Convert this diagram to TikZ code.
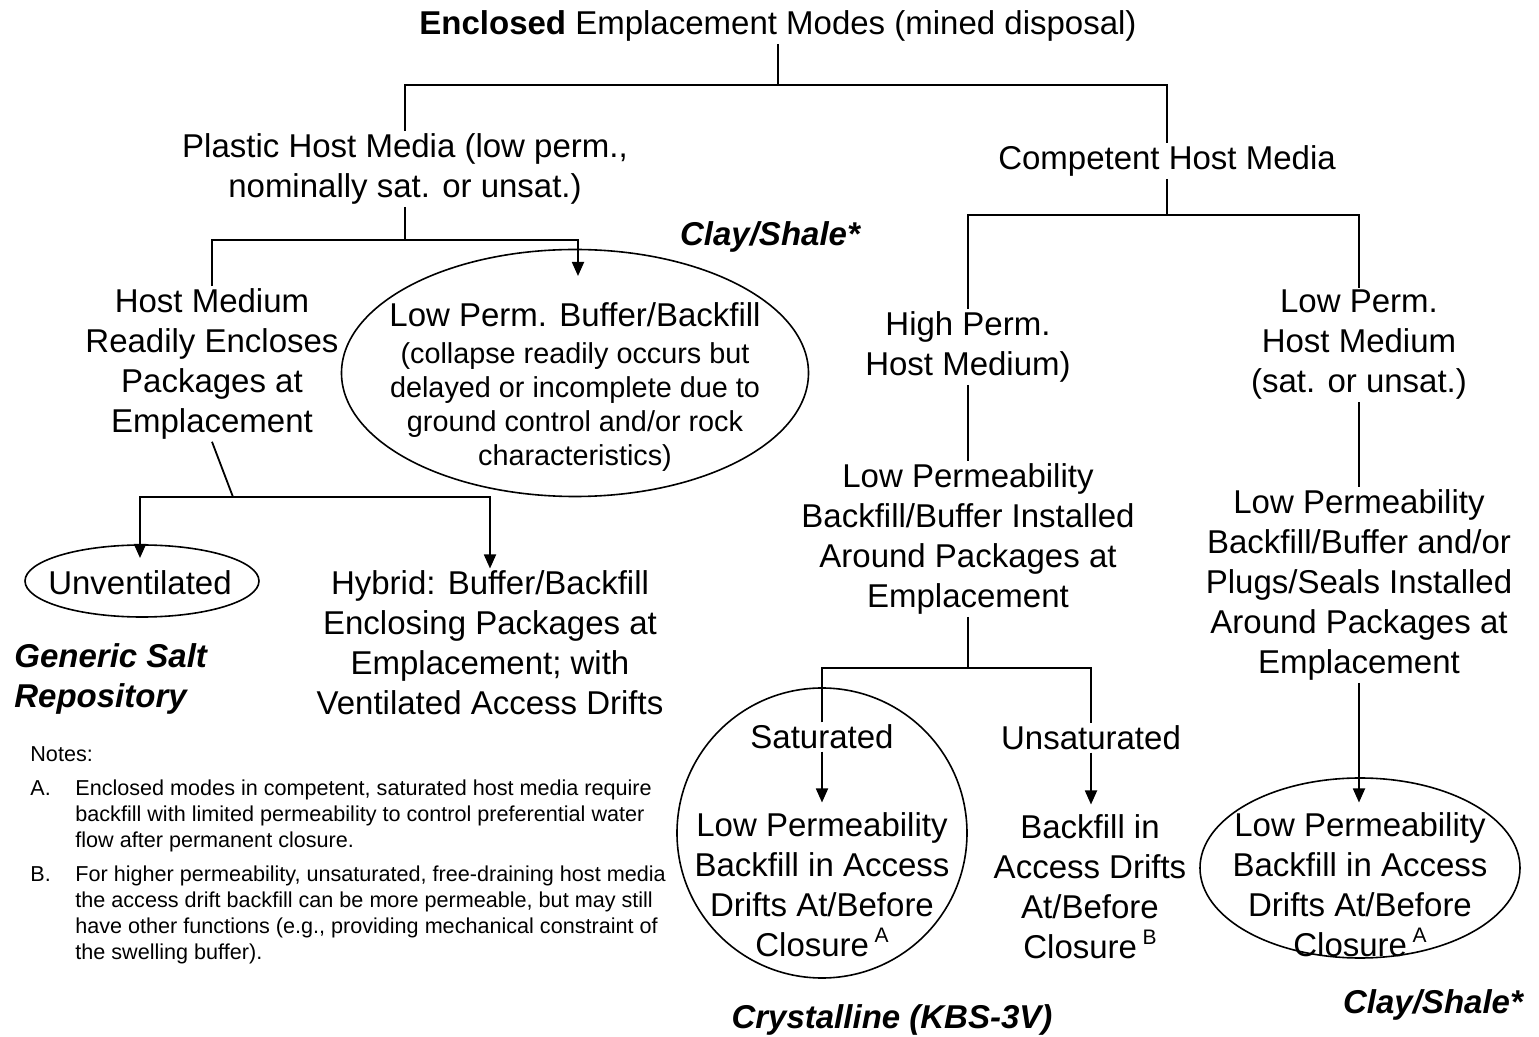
\documentclass[tikz,border=0pt]{standalone}
\usepackage{fontspec}
\setmainfont{Liberation Sans}
\usepackage{tikz}
\usetikzlibrary{shapes.geometric, arrows.meta, positioning, calc}
\newcommand{\bigtxt}{\fontsize{16.5}{20}\selectfont}
\newcommand{\midtxt}{\fontsize{14.4}{17}\selectfont}
\newcommand{\notetxt}{\fontsize{10.8}{13}\selectfont}
\newcommand{\supnote}[1]{\,\raisebox{0.8ex}{\fontsize{10.5}{10.5}\selectfont #1}}

\begin{document}
\begin{tikzpicture}[x=0.5pt, y=-0.5pt,
  hostlbl/.style={align=center, font=\bigtxt, inner sep=1pt},
  oval/.style={ellipse, draw, line width=0.8pt, inner sep=0pt},
  rocktype/.style={font=\bigtxt\bfseries\itshape, inner sep=0pt},
  link/.style={line width=0.9pt},
  arrow/.style={-{Triangle[length=7pt,width=6pt]}, line width=0.9pt}
]
  \useasboundingbox (0,0) rectangle (1539,1037);

  % shapes round some of the texts
  \node[oval, minimum width=233.5pt, minimum height=123.5pt] (lowbuf) at (575,373) {};
  \node[oval, minimum width=117pt, minimum height=36pt] (unvent) at (142,581) {};
  \node[circle, draw, line width=0.8pt, minimum size=145pt] (satcircle) at (822,833) {};
  \node[oval, minimum width=160pt, minimum height=90pt] (clayoval) at (1360,868) {};

  % texts
  \node[hostlbl] (title) at (778,26) {\textbf{Enclosed} Emplacement Modes (mined disposal)};
  \node[hostlbl] (plastic) at (405,169) {Plastic Host Media (low perm.,\\nominally sat. or unsat.)};
  \node[hostlbl] (competent) at (1167,161) {Competent Host Media};
  \node[hostlbl] (readily) at (212,364) {Host Medium\\Readily Encloses\\Packages at\\Emplacement};
  \node[hostlbl, font=\midtxt] (lowbuftxt) at (575,387) {{\bigtxt Low Perm. Buffer/Backfill}\\[1.5pt]
    (collapse readily occurs but\\delayed or incomplete due to\\ground control and/or rock\\characteristics)};
  \node[hostlbl] (unventtxt) at (140,583) {Unventilated};
  \node[hostlbl] (hybrid) at (490,643) {Hybrid: Buffer/Backfill\\Enclosing Packages at\\Emplacement; with\\Ventilated Access Drifts};
  \node[hostlbl] (highperm) at (968,347) {High Perm.\\Host Medium)};
  \node[hostlbl] (lowpermhost) at (1359,345) {Low Perm.\\Host Medium\\(sat. or unsat.)};
  \node[hostlbl] (lpinstalled) at (968,539) {Low Permeability\\Backfill/Buffer Installed\\Around Packages at\\Emplacement};
  \node[hostlbl] (lpplugs) at (1359,585) {Low Permeability\\Backfill/Buffer and/or\\Plugs/Seals Installed\\Around Packages at\\Emplacement};
  \node[hostlbl] (saturated) at (822,737) {Saturated};
  \node[hostlbl] (unsaturated) at (1091,738) {Unsaturated};
  \node[hostlbl] (lpbackfill) at (822,885) {Low Permeability\\Backfill in Access\\Drifts At/Before\\Closure\supnote{A}};
  \node[hostlbl] (backfillin) at (1090,887) {Backfill in\\Access Drifts\\At/Before\\Closure\supnote{B}};
  \node[hostlbl] (clayback) at (1360,885) {Low Permeability\\Backfill in Access\\Drifts At/Before\\Closure\supnote{A}};

  \node[rocktype] (clay1) at (770,237) {Clay/Shale*};
  \node[rocktype, align=left, anchor=west] (salt) at (14,679) {Generic Salt\\Repository};
  \node[rocktype] (crystalline) at (892,1020) {Crystalline (KBS-3V)};
  \node[rocktype] (clay2) at (1433,1005) {Clay/Shale*};

  \node[anchor=north west, inner sep=0pt, font=\notetxt] (notes) at (30,743) {%
    \begin{tabular}{@{}p{22.5pt}@{}l@{}}
      \multicolumn{2}{@{}l@{}}{Notes:}\\[4pt]
      A. & Enclosed modes in competent, saturated host media require\\
         & backfill with limited permeability to control preferential water\\
         & flow after permanent closure.\\[4pt]
      B. & For higher permeability, unsaturated, free-draining host media\\
         & the access drift backfill can be more permeable, but may still\\
         & have other functions (e.g., providing mechanical constraint of\\
         & the swelling buffer).
    \end{tabular}};

  % junctions
  \coordinate (jtop) at (776,85);
  \coordinate (jp) at (405,240);
  \coordinate (bufin) at (578,276);
  \coordinate (jr) at (233,497);
  \coordinate (unventin) at (140,558);
  \coordinate (jc) at (1167,215);
  \coordinate (js) at (968,668);

  % connectors
  \draw[link] (title.south) -- (title.south |- jtop);
  \draw[link] (plastic.north) |- (jtop) -| (competent.north);
  \draw[link] (plastic.south) -- (jp);
  \draw[link] (readily.north) |- (jp);
  \draw[arrow] (jp) -| (bufin);
  \draw[link] (readily.south) -- (jr);
  \draw[arrow] (jr) -| (unventin);
  \draw[arrow] (jr) -| (hybrid.north);

  \draw[link] (competent.south) -- (jc);
  \draw[link] (highperm.north) |- (jc) -| (lowpermhost.north);
  \draw[link] (highperm.south) -- (lpinstalled.north);
  \draw[link] (lowpermhost.south) -- (lpplugs.north);
  \draw[link] (lpinstalled.south) -- (js);
  \draw[link] (saturated.north) |- (js) -| (unsaturated.north);
  \draw[arrow, shorten >=4pt] (saturated.south) -- (saturated.south |- lpbackfill.north);
  \draw[arrow, shorten >=4pt] (unsaturated.south) -- (unsaturated.south |- backfillin.north);
  \draw[arrow, shorten >=4pt] (lpplugs.south) -- (lpplugs.south |- clayback.north);
\end{tikzpicture}
\end{document}
